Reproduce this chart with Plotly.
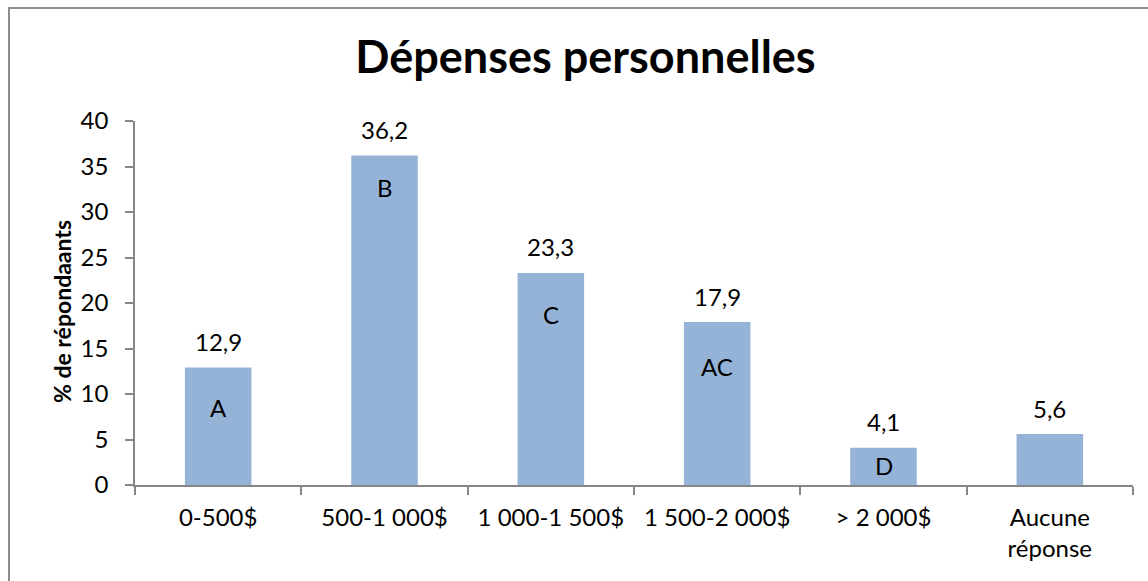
import plotly.graph_objects as go

categories = ["0-500$", "500-1 000$", "1 000-1 500$", "1 500-2 000$", "> 2 000$", "Aucune<br>réponse"]
values = [12.9, 36.2, 23.3, 17.9, 4.1, 5.6]
group_letters = ["A", "B", "C", "AC", "D", ""]
letter_y = [8.5, 32.7, 18.7, 13.0, 2.1, None]

FONT = "Lato, Carlito, Calibri, sans-serif"
AXIS_COLOR = "#868686"
FS = 24

W, H = 1148, 581
ML, MR, MT, MB = 135, 15, 121, 96
PW, PH = W - ML - MR, H - MT - MB

fig = go.Figure()
fig.add_trace(go.Bar(
    x=categories, y=values,
    marker=dict(color="#95B3D7", line=dict(width=0)),
    width=0.4,
    hovertemplate="%{x}: %{y:.1f}<extra></extra>",
))

# value labels above bars
for cat, v in zip(categories, values):
    fig.add_annotation(x=cat, y=v, text=f"{v:.1f}".replace(".", ","), showarrow=False,
                       yanchor="middle", yshift=26,
                       font=dict(family=FONT, size=FS, color="black"))

# group letters inside bars
for cat, let, ly in zip(categories, group_letters, letter_y):
    if let:
        fig.add_annotation(x=cat, y=ly, text=let, showarrow=False,
                           font=dict(family=FONT, size=FS, color="black"))

# y axis title
fig.add_annotation(xref="paper", yref="paper", x=(62 - ML) / PW, y=(H - MB - 312) / PH,
                   text="<b>% de répondaants</b>", textangle=-90, showarrow=False,
                   xanchor="center", yanchor="middle",
                   font=dict(family=FONT, size=23, color="black"))

# chart border
fig.add_shape(type="rect", xref="paper", yref="paper",
              x0=(9 - ML) / PW, x1=1.2, y0=-0.5, y1=(H - MB - 8) / PH,
              line=dict(color="#8c8c8c", width=2), fillcolor="rgba(0,0,0,0)")

fig.update_layout(
    width=W, height=H,
    margin=dict(l=ML, r=MR, t=MT, b=MB, autoexpand=False),
    paper_bgcolor="white", plot_bgcolor="white",
    separators=", ",
    showlegend=False,
    title=dict(text="<b>Dépenses personnelles</b>", x=0.51, xanchor="center",
               y=0.902, yanchor="middle",
               font=dict(family=FONT, size=45, color="black")),
    font=dict(family=FONT, size=FS, color="black"),
)
fig.update_xaxes(
    automargin=False,
    showline=True, linecolor=AXIS_COLOR, linewidth=1.5,
    ticks="outside", tickson="boundaries", ticklen=8, tickcolor=AXIS_COLOR, tickwidth=1.5,
    ticklabelstandoff=10,
    tickfont=dict(family=FONT, size=FS, color="black"),
    showgrid=False,
)
fig.update_yaxes(
    automargin=False,
    range=[0, 40], dtick=5, showline=True, linecolor=AXIS_COLOR, linewidth=1.5,
    ticks="outside", ticklen=8, tickcolor=AXIS_COLOR, tickwidth=1.5,
    ticklabelstandoff=12,
    tickfont=dict(family=FONT, size=FS, color="black"),
    showgrid=False, zeroline=False,
)

fig.write_html("out.html", config={"displayModeBar": False},
               post_script="document.body.style.margin='0px';")
